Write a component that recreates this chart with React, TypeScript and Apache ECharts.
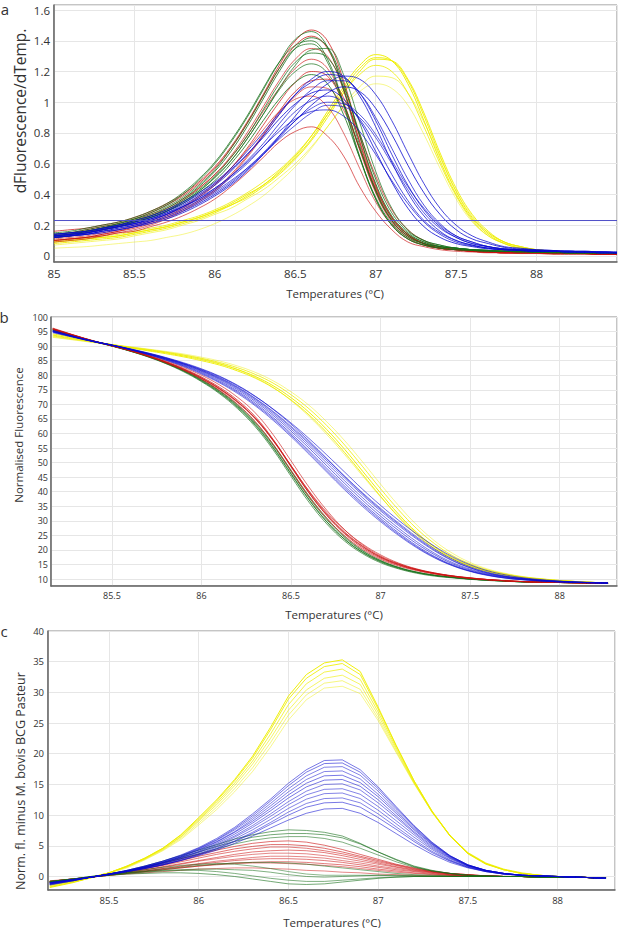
import React, { useEffect, useRef } from "react";
import * as echarts from "echarts";

// ---------- Panel a : derivative melt curves ----------
const TEMPS_A = [85.0, 85.1, 85.2, 85.3, 85.4, 85.5, 85.6, 85.7, 85.8, 85.9, 86.0, 86.1, 86.2, 86.3, 86.4, 86.5, 86.6, 86.7, 86.8, 86.9, 87.0, 87.1, 87.2, 87.3, 87.4, 87.5, 87.6, 87.7, 87.8, 87.9, 88.0, 88.1, 88.2, 88.3, 88.4, 88.5];
const THRESHOLD_A = 0.23;

const A_G1 = [0.14, 0.15, 0.17, 0.19, 0.21, 0.24, 0.28, 0.33, 0.40, 0.49, 0.60, 0.74, 0.90, 1.08, 1.26, 1.41, 1.46, 1.36, 1.08, 0.72, 0.42, 0.23, 0.13, 0.08, 0.06, 0.05, 0.04, 0.035, 0.03, 0.03, 0.025, 0.025, 0.02, 0.02, 0.02, 0.02];
const A_G2 = [0.13, 0.14, 0.16, 0.18, 0.20, 0.23, 0.26, 0.31, 0.37, 0.45, 0.55, 0.68, 0.84, 1.02, 1.20, 1.35, 1.42, 1.36, 1.12, 0.78, 0.47, 0.26, 0.15, 0.09, 0.06, 0.05, 0.04, 0.035, 0.03, 0.03, 0.025, 0.025, 0.02, 0.02, 0.02, 0.02];
const A_G3 = [0.14, 0.15, 0.16, 0.18, 0.21, 0.24, 0.27, 0.32, 0.38, 0.46, 0.56, 0.70, 0.86, 1.04, 1.22, 1.35, 1.38, 1.26, 0.98, 0.64, 0.37, 0.20, 0.11, 0.07, 0.05, 0.04, 0.035, 0.03, 0.03, 0.025, 0.025, 0.02, 0.02, 0.02, 0.02, 0.02];
const A_G4 = [0.12, 0.13, 0.15, 0.17, 0.19, 0.22, 0.25, 0.29, 0.35, 0.42, 0.51, 0.62, 0.76, 0.92, 1.08, 1.20, 1.25, 1.19, 0.99, 0.70, 0.43, 0.24, 0.14, 0.09, 0.06, 0.05, 0.04, 0.035, 0.03, 0.03, 0.025, 0.025, 0.02, 0.02, 0.02, 0.02];
const A_G5 = [0.13, 0.14, 0.16, 0.18, 0.20, 0.23, 0.26, 0.30, 0.36, 0.43, 0.52, 0.64, 0.78, 0.95, 1.12, 1.26, 1.32, 1.29, 1.10, 0.80, 0.50, 0.28, 0.16, 0.10, 0.07, 0.05, 0.04, 0.035, 0.03, 0.03, 0.025, 0.025, 0.02, 0.02, 0.02, 0.02];
const A_G6 = [0.15, 0.16, 0.18, 0.20, 0.22, 0.25, 0.29, 0.34, 0.41, 0.50, 0.61, 0.75, 0.91, 1.09, 1.26, 1.37, 1.40, 1.28, 0.99, 0.65, 0.37, 0.20, 0.11, 0.07, 0.05, 0.04, 0.035, 0.03, 0.03, 0.025, 0.025, 0.02, 0.02, 0.02, 0.02, 0.02];
const A_G7 = [0.12, 0.13, 0.15, 0.17, 0.19, 0.22, 0.25, 0.29, 0.34, 0.41, 0.49, 0.60, 0.73, 0.88, 1.02, 1.13, 1.18, 1.12, 0.92, 0.64, 0.38, 0.21, 0.12, 0.08, 0.06, 0.05, 0.04, 0.035, 0.03, 0.03, 0.025, 0.025, 0.02, 0.02, 0.02, 0.02];
const A_G8 = [0.13, 0.14, 0.16, 0.18, 0.20, 0.22, 0.25, 0.29, 0.35, 0.42, 0.51, 0.62, 0.76, 0.92, 1.09, 1.24, 1.34, 1.35, 1.18, 0.87, 0.55, 0.31, 0.17, 0.10, 0.07, 0.05, 0.04, 0.035, 0.03, 0.03, 0.025, 0.025, 0.02, 0.02, 0.02, 0.02];

const A_R1 = [0.16, 0.17, 0.18, 0.20, 0.22, 0.25, 0.29, 0.34, 0.40, 0.48, 0.58, 0.71, 0.87, 1.05, 1.24, 1.40, 1.47, 1.40, 1.14, 0.78, 0.46, 0.25, 0.14, 0.08, 0.05, 0.04, 0.03, 0.025, 0.02, 0.02, 0.02, 0.015, 0.015, 0.015, 0.01, 0.01];
const A_R2 = [0.12, 0.13, 0.15, 0.17, 0.19, 0.22, 0.26, 0.30, 0.36, 0.44, 0.53, 0.65, 0.80, 0.97, 1.14, 1.28, 1.35, 1.30, 1.08, 0.75, 0.45, 0.25, 0.14, 0.08, 0.05, 0.04, 0.03, 0.025, 0.02, 0.02, 0.02, 0.015, 0.015, 0.015, 0.01, 0.01];
const A_R3 = [0.10, 0.11, 0.12, 0.14, 0.16, 0.19, 0.22, 0.26, 0.31, 0.38, 0.46, 0.57, 0.70, 0.85, 1.00, 1.13, 1.20, 1.17, 0.99, 0.70, 0.42, 0.23, 0.13, 0.08, 0.05, 0.04, 0.03, 0.025, 0.02, 0.02, 0.02, 0.015, 0.015, 0.015, 0.01, 0.01];
const A_R4 = [0.09, 0.10, 0.11, 0.13, 0.15, 0.17, 0.20, 0.24, 0.29, 0.35, 0.42, 0.52, 0.64, 0.78, 0.92, 1.04, 1.10, 1.09, 0.95, 0.70, 0.44, 0.25, 0.14, 0.08, 0.05, 0.04, 0.03, 0.025, 0.02, 0.02, 0.02, 0.015, 0.015, 0.015, 0.01, 0.01];
const A_R5 = [0.10, 0.11, 0.12, 0.13, 0.15, 0.16, 0.19, 0.22, 0.26, 0.31, 0.37, 0.45, 0.54, 0.64, 0.74, 0.81, 0.84, 0.78, 0.65, 0.45, 0.29, 0.17, 0.09, 0.06, 0.04, 0.03, 0.025, 0.02, 0.02, 0.015, 0.015, 0.01, 0.01, 0.01, 0.01, 0.01];
const A_R6 = [0.11, 0.12, 0.13, 0.15, 0.17, 0.20, 0.23, 0.27, 0.32, 0.39, 0.47, 0.57, 0.69, 0.82, 0.94, 1.02, 1.04, 0.97, 0.80, 0.57, 0.35, 0.20, 0.11, 0.07, 0.05, 0.04, 0.03, 0.025, 0.02, 0.02, 0.02, 0.015, 0.015, 0.015, 0.01, 0.01];
const A_R7 = [0.14, 0.15, 0.17, 0.19, 0.21, 0.24, 0.28, 0.33, 0.39, 0.47, 0.57, 0.70, 0.86, 1.04, 1.22, 1.37, 1.43, 1.35, 1.09, 0.74, 0.43, 0.23, 0.13, 0.08, 0.05, 0.04, 0.03, 0.025, 0.02, 0.02, 0.02, 0.015, 0.015, 0.015, 0.01, 0.01];
const A_R8 = [0.13, 0.14, 0.16, 0.18, 0.20, 0.23, 0.27, 0.31, 0.37, 0.44, 0.53, 0.64, 0.78, 0.94, 1.09, 1.22, 1.28, 1.22, 1.00, 0.69, 0.41, 0.22, 0.12, 0.07, 0.05, 0.04, 0.03, 0.025, 0.02, 0.02, 0.02, 0.015, 0.015, 0.015, 0.01, 0.01];
const A_R9 = [0.10, 0.11, 0.12, 0.14, 0.16, 0.18, 0.21, 0.25, 0.30, 0.36, 0.43, 0.53, 0.65, 0.79, 0.94, 1.07, 1.14, 1.15, 1.03, 0.79, 0.52, 0.30, 0.17, 0.10, 0.06, 0.045, 0.035, 0.03, 0.025, 0.02, 0.02, 0.015, 0.015, 0.015, 0.01, 0.01];

const A_B1 = [0.13, 0.14, 0.15, 0.17, 0.19, 0.21, 0.24, 0.28, 0.33, 0.39, 0.46, 0.55, 0.66, 0.78, 0.92, 1.05, 1.15, 1.20, 1.17, 1.04, 0.84, 0.61, 0.41, 0.26, 0.16, 0.10, 0.07, 0.05, 0.04, 0.035, 0.03, 0.03, 0.025, 0.025, 0.02, 0.02];
const A_B2 = [0.12, 0.13, 0.14, 0.16, 0.18, 0.20, 0.23, 0.27, 0.32, 0.37, 0.44, 0.52, 0.62, 0.73, 0.86, 0.98, 1.08, 1.14, 1.14, 1.06, 0.90, 0.70, 0.50, 0.33, 0.21, 0.13, 0.09, 0.06, 0.045, 0.04, 0.035, 0.03, 0.03, 0.025, 0.025, 0.02];
const A_B3 = [0.14, 0.15, 0.16, 0.18, 0.20, 0.22, 0.25, 0.29, 0.34, 0.40, 0.47, 0.56, 0.66, 0.77, 0.89, 0.99, 1.06, 1.08, 1.02, 0.88, 0.68, 0.48, 0.31, 0.19, 0.12, 0.08, 0.06, 0.045, 0.04, 0.035, 0.03, 0.03, 0.025, 0.025, 0.02, 0.02];
const A_B4 = [0.12, 0.13, 0.14, 0.16, 0.18, 0.20, 0.22, 0.26, 0.30, 0.35, 0.41, 0.48, 0.57, 0.67, 0.78, 0.88, 0.96, 1.00, 0.99, 0.92, 0.79, 0.62, 0.45, 0.31, 0.20, 0.13, 0.09, 0.06, 0.045, 0.04, 0.035, 0.03, 0.03, 0.025, 0.025, 0.02];
const A_B5 = [0.13, 0.14, 0.15, 0.17, 0.19, 0.21, 0.24, 0.28, 0.32, 0.38, 0.44, 0.52, 0.61, 0.71, 0.81, 0.89, 0.94, 0.95, 0.91, 0.81, 0.66, 0.49, 0.34, 0.22, 0.14, 0.09, 0.065, 0.05, 0.04, 0.035, 0.03, 0.03, 0.025, 0.025, 0.02, 0.02];
const A_B6 = [0.12, 0.13, 0.14, 0.15, 0.17, 0.19, 0.21, 0.24, 0.28, 0.33, 0.39, 0.46, 0.55, 0.66, 0.78, 0.91, 1.03, 1.12, 1.17, 1.15, 1.05, 0.88, 0.67, 0.47, 0.31, 0.20, 0.13, 0.09, 0.06, 0.05, 0.04, 0.035, 0.03, 0.03, 0.025, 0.025];
const A_B7 = [0.14, 0.15, 0.16, 0.18, 0.20, 0.23, 0.26, 0.30, 0.35, 0.41, 0.48, 0.57, 0.68, 0.80, 0.93, 1.05, 1.13, 1.18, 1.16, 1.06, 0.88, 0.66, 0.46, 0.30, 0.19, 0.12, 0.08, 0.06, 0.045, 0.04, 0.035, 0.03, 0.03, 0.025, 0.025, 0.02];
const A_B8 = [0.13, 0.14, 0.15, 0.17, 0.19, 0.21, 0.24, 0.27, 0.32, 0.37, 0.43, 0.51, 0.60, 0.71, 0.83, 0.94, 1.01, 1.04, 1.00, 0.89, 0.72, 0.53, 0.36, 0.23, 0.15, 0.10, 0.07, 0.05, 0.04, 0.035, 0.03, 0.03, 0.025, 0.025, 0.02, 0.02];
const A_B9 = [0.12, 0.13, 0.14, 0.16, 0.17, 0.19, 0.22, 0.25, 0.29, 0.34, 0.40, 0.47, 0.56, 0.66, 0.77, 0.88, 0.98, 1.06, 1.10, 1.07, 0.96, 0.79, 0.59, 0.41, 0.27, 0.17, 0.11, 0.08, 0.055, 0.045, 0.04, 0.035, 0.03, 0.03, 0.025, 0.025];
const A_B10 = [0.13, 0.14, 0.15, 0.17, 0.19, 0.21, 0.23, 0.27, 0.31, 0.36, 0.42, 0.49, 0.57, 0.66, 0.76, 0.85, 0.93, 0.98, 0.97, 0.90, 0.77, 0.60, 0.43, 0.28, 0.18, 0.12, 0.08, 0.06, 0.045, 0.04, 0.035, 0.03, 0.03, 0.025, 0.025, 0.02];

const A_Y1 = [0.09, 0.10, 0.11, 0.12, 0.13, 0.15, 0.17, 0.19, 0.22, 0.25, 0.29, 0.34, 0.40, 0.46, 0.55, 0.65, 0.78, 0.94, 1.10, 1.24, 1.31, 1.27, 1.12, 0.88, 0.62, 0.40, 0.24, 0.14, 0.08, 0.05, 0.04, 0.03, 0.02, 0.02, 0.015, 0.01];
const A_Y2 = [0.08, 0.09, 0.10, 0.11, 0.12, 0.14, 0.16, 0.18, 0.21, 0.24, 0.28, 0.33, 0.38, 0.45, 0.53, 0.63, 0.75, 0.90, 1.06, 1.20, 1.28, 1.27, 1.15, 0.93, 0.67, 0.44, 0.27, 0.16, 0.09, 0.06, 0.04, 0.03, 0.02, 0.02, 0.015, 0.01];
const A_Y3 = [0.10, 0.11, 0.12, 0.13, 0.14, 0.16, 0.18, 0.20, 0.23, 0.26, 0.30, 0.35, 0.41, 0.48, 0.56, 0.66, 0.78, 0.92, 1.06, 1.18, 1.24, 1.20, 1.06, 0.84, 0.60, 0.39, 0.23, 0.13, 0.08, 0.05, 0.04, 0.03, 0.02, 0.02, 0.015, 0.01];
const A_Y4 = [0.07, 0.08, 0.09, 0.10, 0.11, 0.13, 0.15, 0.17, 0.20, 0.23, 0.27, 0.31, 0.37, 0.43, 0.51, 0.60, 0.71, 0.84, 0.98, 1.10, 1.17, 1.16, 1.06, 0.87, 0.64, 0.42, 0.26, 0.15, 0.09, 0.06, 0.04, 0.03, 0.02, 0.02, 0.015, 0.01];
const A_Y5 = [0.05, 0.055, 0.06, 0.07, 0.08, 0.09, 0.10, 0.12, 0.14, 0.17, 0.21, 0.26, 0.32, 0.39, 0.48, 0.58, 0.70, 0.84, 0.97, 1.07, 1.12, 1.09, 0.98, 0.79, 0.57, 0.37, 0.22, 0.13, 0.08, 0.05, 0.035, 0.025, 0.02, 0.015, 0.01, 0.01];
const A_Y6 = [0.09, 0.10, 0.11, 0.12, 0.13, 0.15, 0.17, 0.19, 0.22, 0.25, 0.29, 0.33, 0.39, 0.46, 0.54, 0.64, 0.76, 0.92, 1.08, 1.22, 1.29, 1.27, 1.14, 0.91, 0.65, 0.42, 0.25, 0.15, 0.09, 0.06, 0.04, 0.03, 0.02, 0.02, 0.015, 0.01];

// ---------- Panels b and c share the temperature grid ----------
const TEMPS_BC = [85.17, 85.3, 85.4, 85.5, 85.6, 85.7, 85.8, 85.9, 86.0, 86.1, 86.2, 86.3, 86.4, 86.5, 86.6, 86.7, 86.8, 86.9, 87.0, 87.1, 87.2, 87.3, 87.4, 87.5, 87.6, 87.7, 87.8, 87.9, 88.0, 88.1, 88.2, 88.27];

// Panel b : normalised fluorescence
const B_Y1 = [93.8, 92.5, 91.5, 90.5, 89.5, 88.6, 87.7, 86.6, 85.4, 83.9, 82.0, 79.6, 76.4, 72.3, 67.3, 61.3, 54.5, 47.0, 39.5, 32.3, 26.1, 21.1, 17.3, 14.6, 12.7, 11.4, 10.5, 9.9, 9.4, 9.1, 8.8, 8.7];
const B_Y2 = [94.2, 92.8, 91.6, 90.5, 89.4, 88.4, 87.4, 86.3, 85.0, 83.5, 81.5, 79.0, 75.7, 71.5, 66.4, 60.3, 53.4, 45.9, 38.4, 31.3, 25.3, 20.5, 16.9, 14.3, 12.5, 11.2, 10.4, 9.8, 9.4, 9.1, 8.8, 8.7];
const B_Y3 = [93.5, 92.3, 91.4, 90.5, 89.6, 88.8, 87.9, 86.9, 85.8, 84.4, 82.6, 80.3, 77.3, 73.3, 68.5, 62.7, 56.0, 48.6, 41.0, 33.8, 27.4, 22.2, 18.1, 15.2, 13.1, 11.7, 10.7, 10.0, 9.5, 9.1, 8.8, 8.7];
const B_Y4 = [93.2, 92.1, 91.3, 90.5, 89.7, 88.9, 88.0, 87.0, 85.7, 84.1, 82.0, 79.3, 75.8, 71.3, 65.9, 59.6, 52.7, 45.4, 38.2, 31.6, 25.8, 21.0, 17.4, 14.8, 12.9, 11.6, 10.6, 10.0, 9.5, 9.1, 8.8, 8.7];
const B_Y5 = [93.0, 92.0, 91.2, 90.5, 89.8, 89.0, 88.2, 87.3, 86.2, 84.9, 83.2, 81.0, 78.1, 74.3, 69.7, 64.0, 57.5, 50.2, 42.6, 35.3, 28.7, 23.2, 18.9, 15.7, 13.4, 11.9, 10.8, 10.1, 9.5, 9.1, 8.8, 8.7];

const B_B1 = [95.0, 93.0, 91.6, 90.4, 89.1, 87.7, 86.1, 84.3, 82.2, 79.7, 76.6, 72.8, 68.3, 63.2, 57.5, 51.4, 45.2, 39.3, 33.9, 28.9, 24.2, 20.0, 16.5, 13.9, 12.1, 10.9, 10.1, 9.6, 9.2, 8.9, 8.7, 8.6];
const B_B2 = [94.8, 92.9, 91.5, 90.3, 88.9, 87.4, 85.7, 83.8, 81.5, 78.8, 75.5, 71.5, 66.8, 61.5, 55.8, 49.8, 43.7, 37.9, 32.5, 27.5, 22.9, 18.9, 15.7, 13.4, 11.8, 10.7, 10.0, 9.5, 9.1, 8.9, 8.7, 8.6];
const B_B3 = [95.2, 93.1, 91.6, 90.3, 88.9, 87.3, 85.5, 83.4, 81.0, 78.1, 74.6, 70.4, 65.5, 60.0, 54.1, 48.0, 41.9, 36.1, 30.8, 25.9, 21.5, 17.8, 14.9, 12.8, 11.4, 10.4, 9.8, 9.4, 9.0, 8.8, 8.7, 8.6];
const B_B4 = [94.6, 92.8, 91.5, 90.3, 89.0, 87.5, 85.9, 84.0, 81.8, 79.2, 76.0, 72.1, 67.6, 62.5, 57.0, 51.2, 45.3, 39.6, 34.3, 29.3, 24.6, 20.4, 16.9, 14.2, 12.3, 11.0, 10.2, 9.6, 9.2, 8.9, 8.7, 8.6];
const B_B5 = [95.4, 93.2, 91.7, 90.3, 88.8, 87.1, 85.2, 83.0, 80.4, 77.4, 73.8, 69.5, 64.5, 58.9, 52.9, 46.7, 40.6, 34.9, 29.7, 25.0, 20.8, 17.3, 14.6, 12.6, 11.2, 10.3, 9.7, 9.3, 9.0, 8.8, 8.7, 8.6];
const B_B6 = [95.0, 93.0, 91.6, 90.4, 89.0, 87.6, 86.0, 84.1, 82.0, 79.5, 76.4, 72.7, 68.4, 63.6, 58.3, 52.6, 46.7, 40.8, 35.3, 30.2, 25.5, 21.3, 17.7, 14.9, 12.8, 11.4, 10.4, 9.8, 9.3, 9.0, 8.8, 8.6];
const B_B7 = [95.1, 93.0, 91.6, 90.3, 88.9, 87.3, 85.6, 83.6, 81.3, 78.5, 75.1, 71.0, 66.2, 60.8, 55.0, 48.9, 42.8, 37.0, 31.6, 26.7, 22.2, 18.4, 15.3, 13.1, 11.6, 10.6, 9.9, 9.4, 9.1, 8.9, 8.7, 8.6];
const B_B8 = [94.9, 92.9, 91.5, 90.3, 89.0, 87.5, 85.8, 83.9, 81.7, 79.0, 75.8, 71.9, 67.3, 62.1, 56.5, 50.6, 44.6, 38.8, 33.4, 28.4, 23.8, 19.7, 16.3, 13.8, 12.0, 10.8, 10.1, 9.5, 9.2, 8.9, 8.7, 8.6];
const B_B9 = [95.3, 93.1, 91.6, 90.3, 88.8, 87.2, 85.3, 83.2, 80.7, 77.7, 74.2, 69.9, 65.0, 59.4, 53.5, 47.3, 41.2, 35.5, 30.2, 25.4, 21.1, 17.5, 14.7, 12.7, 11.3, 10.3, 9.7, 9.3, 9.0, 8.8, 8.7, 8.6];

const B_R1 = [96.0, 93.5, 91.7, 90.2, 88.6, 86.8, 84.7, 82.3, 79.4, 75.9, 71.5, 65.8, 58.0, 48.8, 39.6, 31.8, 25.5, 20.7, 17.2, 14.8, 13.1, 11.9, 11.0, 10.3, 9.8, 9.4, 9.1, 8.9, 8.8, 8.7, 8.6, 8.5];
const B_R2 = [95.8, 93.4, 91.6, 90.1, 88.4, 86.5, 84.3, 81.7, 78.6, 74.8, 70.1, 64.1, 56.3, 47.2, 38.3, 30.8, 24.8, 20.2, 16.8, 14.5, 12.9, 11.7, 10.9, 10.2, 9.7, 9.3, 9.1, 8.9, 8.8, 8.7, 8.6, 8.5];
const B_R3 = [96.2, 93.6, 91.8, 90.2, 88.7, 87.0, 85.0, 82.7, 80.0, 76.7, 72.5, 67.1, 59.6, 50.6, 41.6, 33.6, 26.9, 21.7, 17.9, 15.3, 13.4, 12.1, 11.1, 10.4, 9.8, 9.4, 9.1, 8.9, 8.8, 8.7, 8.6, 8.5];
const B_R4 = [95.6, 93.3, 91.6, 90.1, 88.5, 86.7, 84.6, 82.1, 79.1, 75.5, 71.0, 65.3, 57.6, 48.5, 39.6, 32.0, 25.8, 21.1, 17.5, 15.0, 13.2, 11.9, 11.0, 10.3, 9.8, 9.4, 9.1, 8.9, 8.8, 8.7, 8.6, 8.5];
const B_R5 = [96.0, 93.5, 91.7, 90.1, 88.5, 86.6, 84.4, 81.9, 78.9, 75.2, 70.7, 65.0, 57.5, 48.9, 40.3, 32.9, 26.8, 22.0, 18.3, 15.5, 13.5, 12.1, 11.1, 10.4, 9.8, 9.4, 9.1, 8.9, 8.8, 8.7, 8.6, 8.5];
const B_R6 = [95.9, 93.5, 91.7, 90.2, 88.6, 86.7, 84.5, 82.0, 79.0, 75.4, 70.9, 65.2, 57.8, 49.0, 40.1, 32.4, 26.1, 21.3, 17.6, 15.1, 13.3, 12.0, 11.0, 10.3, 9.8, 9.4, 9.1, 8.9, 8.8, 8.7, 8.6, 8.5];

const B_G1 = [95.6, 93.3, 91.6, 90.1, 88.4, 86.5, 84.2, 81.5, 78.2, 74.2, 69.3, 63.1, 55.3, 46.3, 37.4, 29.7, 23.6, 19.1, 15.9, 13.7, 12.2, 11.2, 10.5, 10.0, 9.6, 9.3, 9.0, 8.9, 8.8, 8.7, 8.6, 8.5];
const B_G2 = [95.4, 93.2, 91.5, 90.0, 88.3, 86.3, 84.0, 81.2, 77.8, 73.7, 68.6, 62.3, 54.4, 45.3, 36.4, 28.9, 23.0, 18.7, 15.6, 13.5, 12.0, 11.0, 10.4, 9.9, 9.5, 9.2, 9.0, 8.9, 8.8, 8.7, 8.6, 8.5];
const B_G3 = [95.8, 93.4, 91.7, 90.1, 88.5, 86.6, 84.4, 81.8, 78.6, 74.7, 69.9, 63.9, 56.3, 47.4, 38.6, 30.9, 24.6, 19.8, 16.4, 14.0, 12.4, 11.3, 10.6, 10.0, 9.6, 9.3, 9.0, 8.9, 8.8, 8.7, 8.6, 8.5];
const B_G4 = [95.5, 93.3, 91.6, 90.0, 88.3, 86.4, 84.1, 81.4, 78.0, 74.0, 69.0, 62.8, 55.0, 46.0, 37.2, 29.6, 23.6, 19.2, 16.1, 13.9, 12.3, 11.3, 10.6, 10.0, 9.6, 9.3, 9.0, 8.9, 8.8, 8.7, 8.6, 8.5];
const B_G5 = [95.7, 93.4, 91.7, 90.1, 88.4, 86.5, 84.3, 81.6, 78.4, 74.5, 69.6, 63.5, 55.9, 47.0, 38.1, 30.4, 24.2, 19.6, 16.3, 14.0, 12.4, 11.3, 10.6, 10.0, 9.6, 9.3, 9.0, 8.9, 8.8, 8.7, 8.6, 8.5];

// Panel c : normalised fluorescence minus M. bovis BCG Pasteur
const C_Y1 = [-1.8, -1.0, -0.2, 0.6, 1.7, 3.0, 4.6, 6.8, 9.6, 12.5, 15.8, 19.6, 24.3, 29.4, 32.9, 34.8, 35.3, 33.4, 27.6, 21.4, 15.6, 10.6, 6.6, 3.7, 2.0, 1.1, 0.5, 0.2, 0.0, -0.1, -0.2, -0.2];
const C_Y2 = [-1.7, -0.9, -0.2, 0.6, 1.7, 3.0, 4.6, 6.7, 9.4, 12.3, 15.6, 19.3, 23.9, 28.9, 32.3, 34.2, 34.7, 32.9, 27.3, 21.3, 15.6, 10.7, 6.7, 3.8, 2.1, 1.1, 0.5, 0.2, 0.0, -0.1, -0.2, -0.2];
const C_Y3 = [-1.6, -0.9, -0.2, 0.6, 1.6, 2.9, 4.5, 6.5, 9.2, 12.0, 15.2, 18.8, 23.2, 28.0, 31.4, 33.3, 33.8, 32.1, 26.8, 21.0, 15.4, 10.6, 6.7, 3.8, 2.1, 1.1, 0.5, 0.2, 0.0, -0.1, -0.2, -0.2];
const C_Y4 = [-1.5, -0.8, -0.1, 0.6, 1.6, 2.9, 4.4, 6.4, 9.0, 11.7, 14.8, 18.3, 22.5, 27.1, 30.4, 32.3, 32.8, 31.3, 26.3, 20.7, 15.3, 10.5, 6.6, 3.8, 2.1, 1.1, 0.5, 0.2, 0.0, -0.1, -0.2, -0.2];
const C_Y5 = [-1.4, -0.8, -0.1, 0.6, 1.5, 2.8, 4.3, 6.2, 8.7, 11.3, 14.3, 17.7, 21.8, 26.3, 29.6, 31.5, 31.9, 30.5, 25.8, 20.4, 15.2, 10.5, 6.7, 3.9, 2.2, 1.2, 0.6, 0.2, 0.0, -0.1, -0.2, -0.2];
const C_Y6 = [-1.3, -0.7, -0.1, 0.5, 1.4, 2.7, 4.2, 6.0, 8.4, 10.9, 13.8, 17.1, 21.1, 25.5, 28.8, 30.7, 31.0, 29.8, 25.4, 20.2, 15.1, 10.5, 6.7, 3.9, 2.2, 1.2, 0.6, 0.2, 0.0, -0.1, -0.2, -0.2];

const C_B1 = [-1.2, -0.6, -0.1, 0.4, 1.0, 1.7, 2.5, 3.5, 4.7, 6.2, 8.0, 10.2, 12.6, 15.2, 17.4, 18.9, 19.0, 17.4, 14.6, 11.4, 8.3, 5.6, 3.4, 1.9, 1.0, 0.5, 0.2, 0.1, 0.0, -0.1, -0.2, -0.3];
const C_B2 = [-1.3, -0.7, -0.1, 0.4, 0.9, 1.6, 2.4, 3.3, 4.5, 5.9, 7.6, 9.6, 11.9, 14.3, 16.4, 17.8, 17.9, 16.5, 13.9, 10.9, 8.0, 5.4, 3.3, 1.9, 1.0, 0.5, 0.2, 0.1, 0.0, -0.1, -0.2, -0.3];
const C_B3 = [-1.1, -0.6, -0.1, 0.4, 0.9, 1.5, 2.3, 3.2, 4.3, 5.6, 7.2, 9.0, 11.1, 13.3, 15.2, 16.4, 16.5, 15.3, 13.0, 10.3, 7.6, 5.2, 3.2, 1.8, 1.0, 0.5, 0.2, 0.1, 0.0, -0.1, -0.2, -0.3];
const C_B4 = [-1.4, -0.7, -0.1, 0.4, 0.9, 1.5, 2.2, 3.0, 4.0, 5.2, 6.6, 8.3, 10.2, 12.2, 13.9, 15.0, 15.1, 14.1, 12.0, 9.6, 7.1, 4.8, 3.0, 1.7, 0.9, 0.5, 0.2, 0.1, 0.0, -0.1, -0.2, -0.3];
const C_B5 = [-1.0, -0.5, -0.1, 0.3, 0.8, 1.4, 2.0, 2.8, 3.7, 4.8, 6.1, 7.6, 9.3, 11.1, 12.6, 13.5, 13.6, 12.7, 10.8, 8.6, 6.4, 4.4, 2.7, 1.6, 0.9, 0.4, 0.2, 0.1, 0.0, -0.1, -0.2, -0.3];
const C_B6 = [-1.0, -0.5, -0.1, 0.3, 0.8, 1.3, 1.9, 2.6, 3.4, 4.3, 5.4, 6.6, 7.9, 9.2, 10.3, 11.0, 11.1, 10.3, 8.8, 7.0, 5.2, 3.6, 2.3, 1.4, 0.8, 0.4, 0.2, 0.1, 0.0, -0.1, -0.2, -0.3];
const C_B7 = [-1.2, -0.6, -0.1, 0.4, 1.0, 1.7, 2.5, 3.4, 4.6, 6.0, 7.8, 9.9, 12.3, 14.8, 17.0, 18.4, 18.5, 17.0, 14.3, 11.2, 8.2, 5.5, 3.4, 1.9, 1.0, 0.5, 0.2, 0.1, 0.0, -0.1, -0.2, -0.3];
const C_B8 = [-1.3, -0.7, -0.1, 0.4, 0.9, 1.6, 2.3, 3.2, 4.4, 5.7, 7.3, 9.3, 11.5, 13.8, 15.8, 17.1, 17.2, 15.9, 13.4, 10.6, 7.8, 5.3, 3.3, 1.8, 1.0, 0.5, 0.2, 0.1, 0.0, -0.1, -0.2, -0.3];
const C_B9 = [-1.1, -0.6, -0.1, 0.4, 0.9, 1.5, 2.2, 3.1, 4.1, 5.4, 6.9, 8.7, 10.7, 12.8, 14.6, 15.7, 15.8, 14.7, 12.5, 9.9, 7.3, 5.0, 3.1, 1.8, 1.0, 0.5, 0.2, 0.1, 0.0, -0.1, -0.2, -0.3];
const C_B10 = [-1.2, -0.6, -0.1, 0.4, 0.9, 1.5, 2.1, 2.9, 3.9, 5.0, 6.4, 8.0, 9.8, 11.7, 13.3, 14.2, 14.3, 13.4, 11.4, 9.1, 6.8, 4.6, 2.9, 1.7, 0.9, 0.4, 0.2, 0.1, 0.0, -0.1, -0.2, -0.3];
const C_B11 = [-1.0, -0.5, -0.1, 0.3, 0.8, 1.3, 1.9, 2.7, 3.6, 4.6, 5.8, 7.2, 8.8, 10.5, 11.9, 12.7, 12.8, 12.0, 10.2, 8.1, 6.0, 4.1, 2.6, 1.5, 0.8, 0.4, 0.2, 0.1, 0.0, -0.1, -0.2, -0.3];
const C_B12 = [-1.1, -0.5, -0.1, 0.3, 0.8, 1.3, 1.9, 2.6, 3.5, 4.5, 5.7, 7.0, 8.5, 10.0, 11.3, 12.0, 12.1, 11.3, 9.6, 7.7, 5.7, 3.9, 2.5, 1.5, 0.8, 0.4, 0.2, 0.1, 0.0, -0.1, -0.2, -0.3];

const C_R1 = [-0.9, -0.5, -0.1, 0.4, 0.9, 1.5, 2.2, 2.9, 3.6, 4.3, 4.9, 5.4, 5.7, 5.8, 5.6, 5.1, 4.4, 3.6, 2.8, 2.0, 1.4, 0.9, 0.5, 0.3, 0.1, 0.0, 0.0, -0.1, -0.1, -0.1, -0.2, -0.2];
const C_R2 = [-0.8, -0.4, -0.1, 0.3, 0.8, 1.3, 1.8, 2.4, 3.0, 3.6, 4.1, 4.5, 4.8, 4.8, 4.6, 4.2, 3.7, 3.1, 2.4, 1.8, 1.2, 0.8, 0.5, 0.3, 0.1, 0.0, 0.0, -0.1, -0.1, -0.1, -0.2, -0.2];
const C_R3 = [-1.0, -0.5, -0.1, 0.3, 0.7, 1.1, 1.5, 2.0, 2.5, 2.9, 3.3, 3.6, 3.8, 3.8, 3.7, 3.4, 3.0, 2.5, 2.0, 1.5, 1.0, 0.7, 0.4, 0.2, 0.1, 0.0, 0.0, -0.1, -0.1, -0.1, -0.2, -0.2];
const C_R4 = [-0.7, -0.4, -0.1, 0.3, 0.6, 0.9, 1.3, 1.6, 2.0, 2.3, 2.6, 2.8, 2.9, 2.9, 2.8, 2.6, 2.3, 1.9, 1.5, 1.1, 0.8, 0.5, 0.3, 0.2, 0.1, 0.0, 0.0, -0.1, -0.1, -0.1, -0.2, -0.2];
const C_R5 = [-0.9, -0.5, -0.1, 0.2, 0.5, 0.8, 1.1, 1.4, 1.7, 1.9, 2.1, 2.2, 2.2, 2.1, 2.0, 1.8, 1.6, 1.3, 1.0, 0.7, 0.5, 0.3, 0.2, 0.1, 0.0, 0.0, 0.0, -0.1, -0.1, -0.1, -0.2, -0.2];
const C_R6 = [-0.8, -0.4, -0.1, 0.2, 0.4, 0.6, 0.8, 1.0, 1.2, 1.3, 1.4, 1.4, 1.3, 1.2, 1.0, 0.9, 0.7, 0.6, 0.4, 0.3, 0.2, 0.1, 0.1, 0.0, 0.0, 0.0, 0.0, -0.1, -0.1, -0.1, -0.2, -0.2];
const C_R7 = [-0.9, -0.5, -0.1, 0.3, 0.8, 1.3, 1.9, 2.6, 3.3, 3.9, 4.5, 4.9, 5.2, 5.2, 5.0, 4.6, 4.0, 3.3, 2.6, 1.9, 1.3, 0.8, 0.5, 0.3, 0.1, 0.0, 0.0, -0.1, -0.1, -0.1, -0.2, -0.2];
const C_R8 = [-0.8, -0.4, -0.1, 0.3, 0.7, 1.1, 1.6, 2.1, 2.6, 3.1, 3.6, 4.0, 4.2, 4.3, 4.2, 3.9, 3.4, 2.8, 2.2, 1.6, 1.1, 0.7, 0.4, 0.2, 0.1, 0.0, 0.0, -0.1, -0.1, -0.1, -0.2, -0.2];
const C_R9 = [-1.0, -0.5, -0.1, 0.2, 0.6, 0.9, 1.3, 1.7, 2.1, 2.5, 2.8, 3.1, 3.3, 3.3, 3.2, 3.0, 2.6, 2.2, 1.7, 1.3, 0.9, 0.6, 0.3, 0.2, 0.1, 0.0, 0.0, -0.1, -0.1, -0.1, -0.2, -0.2];
const C_R10 = [-0.8, -0.4, -0.1, 0.2, 0.5, 0.8, 1.1, 1.4, 1.7, 2.0, 2.2, 2.3, 2.4, 2.4, 2.3, 2.1, 1.9, 1.6, 1.2, 0.9, 0.6, 0.4, 0.2, 0.1, 0.1, 0.0, 0.0, -0.1, -0.1, -0.1, -0.2, -0.2];

const C_G1 = [-0.8, -0.4, -0.1, 0.4, 1.0, 1.7, 2.5, 3.4, 4.3, 5.2, 6.1, 6.8, 7.3, 7.6, 7.5, 7.2, 6.6, 5.4, 4.0, 2.7, 1.6, 0.9, 0.5, 0.2, 0.1, 0.0, 0.0, -0.1, -0.1, -0.1, -0.2, -0.2];
const C_G2 = [-0.9, -0.5, -0.1, 0.3, 0.8, 1.4, 2.1, 2.9, 3.7, 4.5, 5.3, 5.9, 6.3, 6.5, 6.5, 6.2, 5.6, 4.6, 3.5, 2.4, 1.5, 0.9, 0.5, 0.2, 0.1, 0.0, 0.0, -0.1, -0.1, -0.1, -0.2, -0.2];
const C_G3 = [-0.9, -0.4, 0.0, 0.3, 0.6, 0.8, 1.0, 1.1, 1.2, 1.2, 1.1, 1.0, 0.7, 0.3, 0.0, -0.1, 0.0, 0.1, 0.2, 0.2, 0.1, 0.1, 0.0, 0.0, 0.0, 0.0, 0.0, -0.1, -0.1, -0.1, -0.2, -0.2];
const C_G4 = [-1.0, -0.5, -0.1, 0.2, 0.4, 0.5, 0.6, 0.6, 0.5, 0.3, 0.0, -0.4, -0.8, -1.2, -1.3, -1.2, -0.9, -0.6, -0.3, -0.1, 0.0, 0.0, 0.0, 0.0, 0.0, 0.0, 0.0, -0.1, -0.1, -0.1, -0.2, -0.2];
const C_G5 = [-0.8, -0.4, 0.0, 0.3, 0.7, 1.1, 1.5, 1.8, 2.0, 2.1, 2.0, 1.7, 1.3, 0.8, 0.4, 0.2, 0.2, 0.2, 0.2, 0.1, 0.1, 0.0, 0.0, 0.0, 0.0, 0.0, 0.0, -0.1, -0.1, -0.1, -0.2, -0.2];
const C_G6 = [-0.9, -0.5, -0.1, 0.3, 0.9, 1.5, 2.3, 3.1, 4.0, 4.9, 5.7, 6.4, 6.8, 7.0, 7.0, 6.8, 6.3, 5.3, 4.0, 2.8, 1.7, 1.0, 0.5, 0.2, 0.1, 0.0, 0.0, -0.1, -0.1, -0.1, -0.2, -0.2];
const C_G7 = [-0.9, -0.5, -0.1, 0.2, 0.5, 0.7, 0.9, 1.0, 1.0, 0.8, 0.5, 0.1, -0.3, -0.6, -0.8, -0.8, -0.6, -0.4, -0.2, -0.1, 0.0, 0.0, 0.0, 0.0, 0.0, 0.0, 0.0, -0.1, -0.1, -0.1, -0.2, -0.2];
const C_G8 = [-0.8, -0.4, 0.0, 0.3, 0.6, 0.9, 1.2, 1.5, 1.8, 2.0, 2.2, 2.3, 2.3, 2.2, 2.0, 1.7, 1.4, 1.1, 0.8, 0.5, 0.3, 0.2, 0.1, 0.0, 0.0, 0.0, 0.0, -0.1, -0.1, -0.1, -0.2, -0.2];

// ---------- Text ----------
const X_TITLE = "Temperatures (°C)";
const Y_TITLE_A = "dFluorescence/dTemp.";
const Y_TITLE_B = "Normalised Fluorescence";
const Y_TITLE_C = "Norm. fl. minus M. bovis BCG Pasteur";

const FONT = "Open Sans";
const YELLOW = "#eeee00";
const BLUE = "#0a0ad0";
const RED = "#cc1111";
const GREEN = "#17701a";

function lines(temps: number[], curves: number[][], color: string, opac: number[], axis: number, smooth: boolean | number) {
  return curves.map((vals, k) => ({
    type: "line",
    xAxisIndex: axis,
    yAxisIndex: axis,
    data: temps.map((t, i) => [t, vals[i]]),
    showSymbol: false,
    symbol: "none",
    smooth,
    silent: true,
    lineStyle: { color, width: 1, opacity: opac[k % opac.length] },
  }));
}

function axisCfg(grid: number, extra: any, fontSize: number, margin: number) {
  const { axisLabel, ...rest } = extra;
  return {
    gridIndex: grid,
    type: "value",
    ...rest,
    axisLine: { show: true, onZero: false, lineStyle: { color: "#666", width: 1.5 } },
    axisTick: { show: false },
    axisLabel: { color: "#333", fontSize, fontFamily: FONT, margin, ...(axisLabel || {}) },
    splitLine: { show: true, lineStyle: { color: "#e6e6e6", width: 1 } },
  };
}

function txt(text: string, x: number, y: number, fontSize: number, rotation = 0) {
  return {
    type: "text",
    x,
    y,
    rotation,
    silent: true,
    style: { text, fontSize, fontFamily: FONT, fill: "#333", align: "center", verticalAlign: "middle" },
  };
}

export default function App() {
  const ref = useRef<HTMLDivElement>(null);
  useEffect(() => {
    if (!ref.current) return;
    const chart = echarts.init(ref.current, undefined, { renderer: "svg" });
    const series: any[] = [
      ...lines(TEMPS_A, [A_Y1, A_Y2, A_Y3, A_Y4, A_Y5, A_Y6], YELLOW, [0.95, 0.9, 0.8, 0.55, 0.45, 0.9], 0, 0.4),
      ...lines(TEMPS_A, [A_R1, A_R2, A_R3, A_R4, A_R5, A_R6, A_R7, A_R8, A_R9], RED, [0.75, 0.65, 0.7, 0.6, 0.65, 0.6], 0, 0.4),
      ...lines(TEMPS_A, [A_G1, A_G2, A_G3, A_G4, A_G5, A_G6, A_G7, A_G8], GREEN, [0.75, 0.8, 0.7, 0.7, 0.75], 0, 0.4),
      ...lines(TEMPS_A, [A_B1, A_B2, A_B3, A_B4, A_B5, A_B6, A_B7, A_B8, A_B9, A_B10], BLUE, [0.75, 0.7, 0.8, 0.65, 0.7, 0.75], 0, 0.4),
      {
        type: "line",
        xAxisIndex: 0,
        yAxisIndex: 0,
        data: [[TEMPS_A[0], THRESHOLD_A], [TEMPS_A[TEMPS_A.length - 1], THRESHOLD_A]],
        showSymbol: false,
        symbol: "none",
        silent: true,
        lineStyle: { color: "#5050c8", width: 1 },
      },
      ...lines(TEMPS_BC, [B_Y1, B_Y2, B_Y3, B_Y4, B_Y5], YELLOW, [0.95, 0.9, 0.8, 0.5, 0.45], 1, 0.4),
      ...lines(TEMPS_BC, [B_G1, B_G2, B_G3, B_G4, B_G5], GREEN, [0.7, 0.65, 0.6, 0.7], 1, 0.4),
      ...lines(TEMPS_BC, [B_R1, B_R2, B_R3, B_R4, B_R5, B_R6], RED, [0.7, 0.65, 0.6, 0.7, 0.6], 1, 0.4),
      ...lines(TEMPS_BC, [B_B1, B_B2, B_B3, B_B4, B_B5, B_B6, B_B7, B_B8, B_B9], BLUE, [0.6, 0.55, 0.6, 0.5, 0.55, 0.6], 1, 0.4),
      ...lines(TEMPS_BC, [C_Y1, C_Y2, C_Y3, C_Y4, C_Y5, C_Y6], YELLOW, [0.95, 0.85, 0.7, 0.6, 0.5, 0.45], 2, false),
      ...lines(TEMPS_BC, [C_R1, C_R2, C_R3, C_R4, C_R5, C_R6, C_R7, C_R8, C_R9, C_R10], RED, [0.6, 0.55, 0.5, 0.55, 0.5, 0.5], 2, false),
      ...lines(TEMPS_BC, [C_G1, C_G2, C_G3, C_G4, C_G5, C_G6, C_G7, C_G8], GREEN, [0.6, 0.55, 0.55, 0.6, 0.5], 2, false),
      ...lines(TEMPS_BC, [C_B1, C_B2, C_B3, C_B4, C_B5, C_B6, C_B7, C_B8, C_B9, C_B10, C_B11, C_B12], BLUE, [0.55, 0.5, 0.55, 0.5, 0.5, 0.55], 2, false),
    ];
    chart.setOption({
      animation: false,
      backgroundColor: "#ffffff",
      grid: [
        { left: 54, top: 5, width: 563, height: 257, show: true, borderColor: "#8a8a8a", borderWidth: 1, outerBoundsMode: "none" },
        { left: 51, top: 317, width: 566, height: 269, show: true, borderColor: "#8a8a8a", borderWidth: 1, outerBoundsMode: "none" },
        { left: 48, top: 631, width: 567, height: 259, show: true, borderColor: "#8a8a8a", borderWidth: 1, outerBoundsMode: "none" },
      ],
      xAxis: [
        axisCfg(0, { min: 85, max: 88.5, interval: 0.5, axisLabel: { showMaxLabel: false } }, 11.5, 5),
        axisCfg(1, { min: 85.16, max: 88.32, splitNumber: 6, minInterval: 0.5, maxInterval: 0.5, axisLabel: { showMinLabel: false, showMaxLabel: false } }, 9, 5),
        axisCfg(2, { min: 85.16, max: 88.32, splitNumber: 6, minInterval: 0.5, maxInterval: 0.5, axisLabel: { showMinLabel: false, showMaxLabel: false } }, 9.5, 5),
      ],
      yAxis: [
        axisCfg(0, { min: -0.04, max: 1.633, splitNumber: 8, minInterval: 0.2, maxInterval: 0.2, axisLabel: { showMinLabel: false, showMaxLabel: false } }, 11.5, 4),
        axisCfg(1, { min: 7.6, max: 100, splitNumber: 18, minInterval: 5, maxInterval: 5, axisLabel: { showMinLabel: false } }, 9, 3),
        axisCfg(2, { min: -2.2, max: 40, splitNumber: 8, minInterval: 5, maxInterval: 5, axisLabel: { showMinLabel: false } }, 9.5, 4),
      ],
      graphic: [
        txt("a", 5, 9, 15),
        txt(Y_TITLE_A, 20, 111, 15.5, Math.PI / 2),
        txt(X_TITLE, 335, 293, 11.5),
        txt("b", 4, 317, 15),
        txt(Y_TITLE_B, 18, 435, 11.5, Math.PI / 2),
        txt(X_TITLE, 334, 614, 11.5),
        txt("c", 4, 631, 15),
        txt(Y_TITLE_C, 20, 781, 12.5, Math.PI / 2),
        txt(X_TITLE, 332, 922, 11.5),
      ],
      series,
    });
    return () => chart.dispose();
  }, []);
  return <div ref={ref} style={{ position: "absolute", left: 0, top: 0, width: 622, height: 928 }} />;
}
